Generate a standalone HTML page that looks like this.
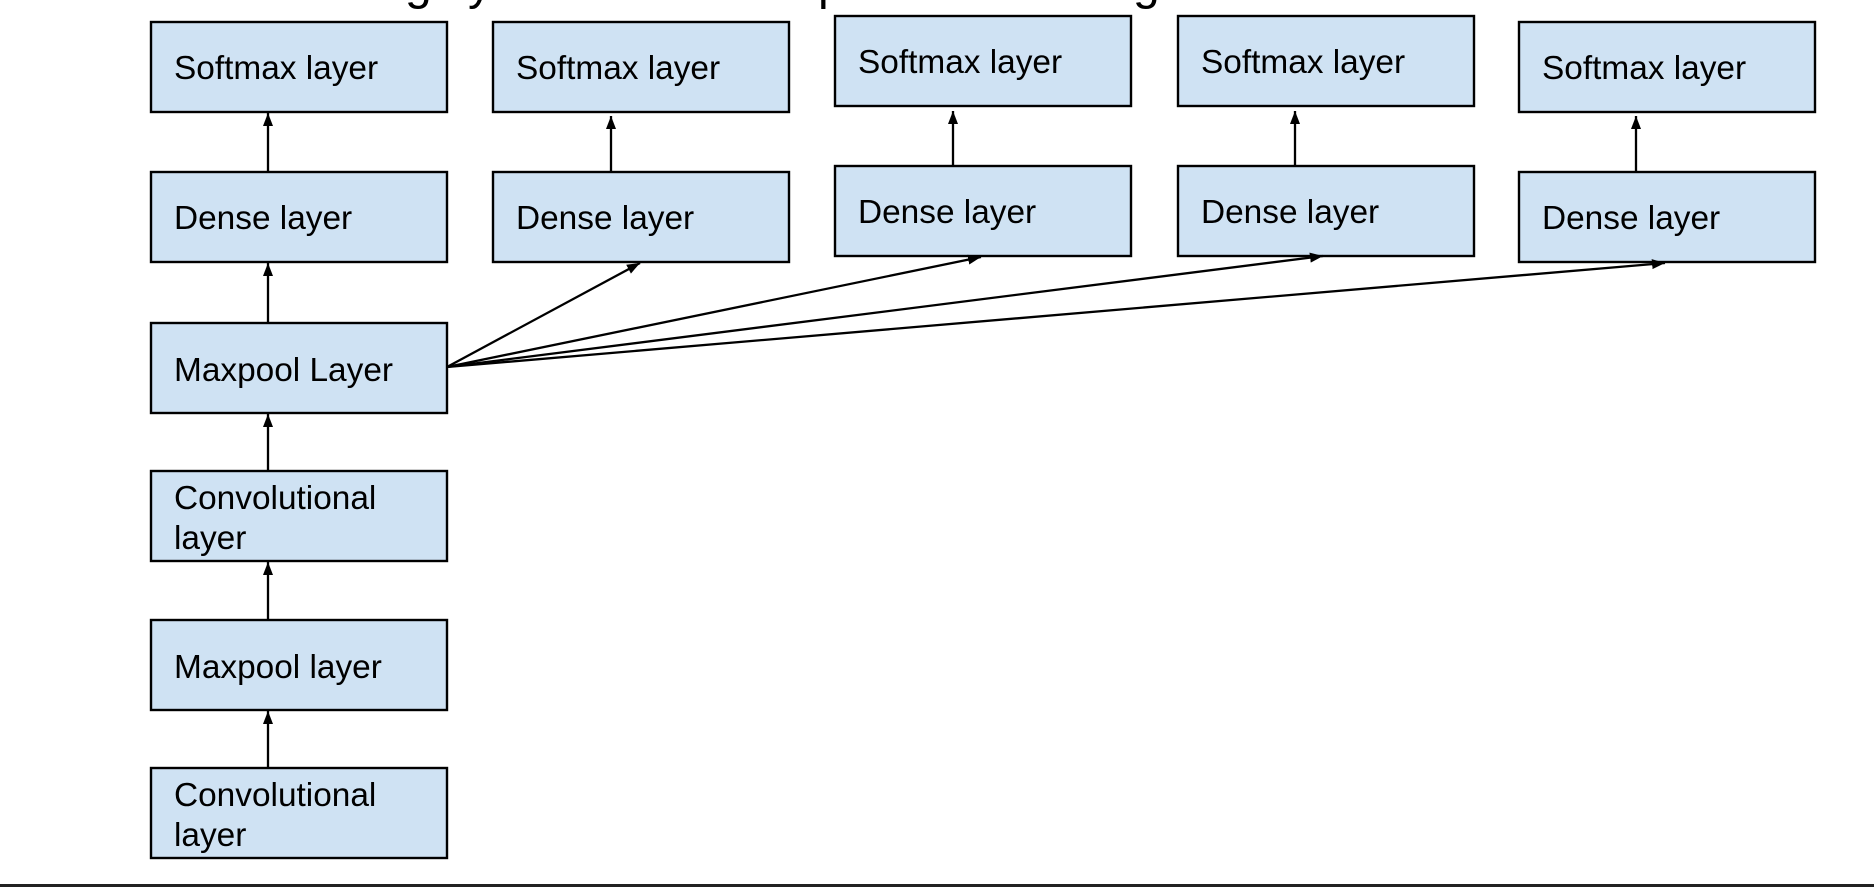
<!DOCTYPE html>
<html><head><meta charset="utf-8"><style>
html,body{margin:0;padding:0;background:#fff;width:1874px;height:888px;overflow:hidden}
svg{display:block}
text{font-family:"Liberation Sans",Arial,sans-serif;font-size:33.4px;fill:#000}
.b{fill:#cfe2f3;stroke:#000;stroke-width:2.4}
.l{stroke:#000;stroke-width:2.3;fill:none}
</style></head><body>
<svg width="1874" height="888" viewBox="0 0 1874 888" xmlns="http://www.w3.org/2000/svg">
<defs>
<marker id="v" markerWidth="10" markerHeight="14" refX="13" refY="5" orient="auto" markerUnits="userSpaceOnUse"><path d="M0,0 L13,5 L0,10 z" fill="#000"/></marker></defs>
<g><text x="405" y="-1" style="font-size:48px">g</text><text x="468" y="-1" style="font-size:48px">y</text><text x="818" y="-1" style="font-size:48px">p</text><text x="1133" y="-1" style="font-size:48px">g</text></g>
<rect class="b" x="151" y="22" width="296" height="90"/><text x="174" y="79">Softmax layer</text>
<rect class="b" x="493" y="22" width="296" height="90"/><text x="516" y="79">Softmax layer</text>
<rect class="b" x="835" y="16" width="296" height="90"/><text x="858" y="73">Softmax layer</text>
<rect class="b" x="1178" y="16" width="296" height="90"/><text x="1201" y="73">Softmax layer</text>
<rect class="b" x="1519" y="22" width="296" height="90"/><text x="1542" y="79">Softmax layer</text>
<rect class="b" x="151" y="172" width="296" height="90"/><text x="174" y="229">Dense layer</text>
<rect class="b" x="493" y="172" width="296" height="90"/><text x="516" y="229">Dense layer</text>
<rect class="b" x="835" y="166" width="296" height="90"/><text x="858" y="223">Dense layer</text>
<rect class="b" x="1178" y="166" width="296" height="90"/><text x="1201" y="223">Dense layer</text>
<rect class="b" x="1519" y="172" width="296" height="90"/><text x="1542" y="229">Dense layer</text>
<rect class="b" x="151" y="323" width="296" height="90"/><text x="174" y="381">Maxpool Layer</text>
<rect class="b" x="151" y="471" width="296" height="90"/><text x="174" y="509">Convolutional</text><text x="174" y="549">layer</text>
<rect class="b" x="151" y="620" width="296" height="90"/><text x="174" y="678">Maxpool layer</text>
<rect class="b" x="151" y="768" width="296" height="90"/><text x="174" y="806">Convolutional</text><text x="174" y="846">layer</text>
<line class="l" x1="268" y1="767" x2="268" y2="711" marker-end="url(#v)"/>
<line class="l" x1="268" y1="619" x2="268" y2="562" marker-end="url(#v)"/>
<line class="l" x1="268" y1="470" x2="268" y2="414" marker-end="url(#v)"/>
<line class="l" x1="268" y1="322" x2="268" y2="263" marker-end="url(#v)"/>
<line class="l" x1="268" y1="171" x2="268" y2="113" marker-end="url(#v)"/>
<line class="l" x1="611" y1="171" x2="611" y2="116" marker-end="url(#v)"/>
<line class="l" x1="953" y1="165" x2="953" y2="111" marker-end="url(#v)"/>
<line class="l" x1="1295" y1="165" x2="1295" y2="111" marker-end="url(#v)"/>
<line class="l" x1="1636" y1="171" x2="1636" y2="116" marker-end="url(#v)"/>
<line class="l" x1="447" y1="367" x2="640" y2="263" marker-end="url(#v)"/>
<line class="l" x1="447" y1="367" x2="981" y2="257" marker-end="url(#v)"/>
<line class="l" x1="447" y1="367" x2="1323" y2="256" marker-end="url(#v)"/>
<line class="l" x1="447" y1="367" x2="1665" y2="263" marker-end="url(#v)"/>
<rect x="0" y="884" width="1874" height="3" fill="#222"/>
</svg>
</body></html>
